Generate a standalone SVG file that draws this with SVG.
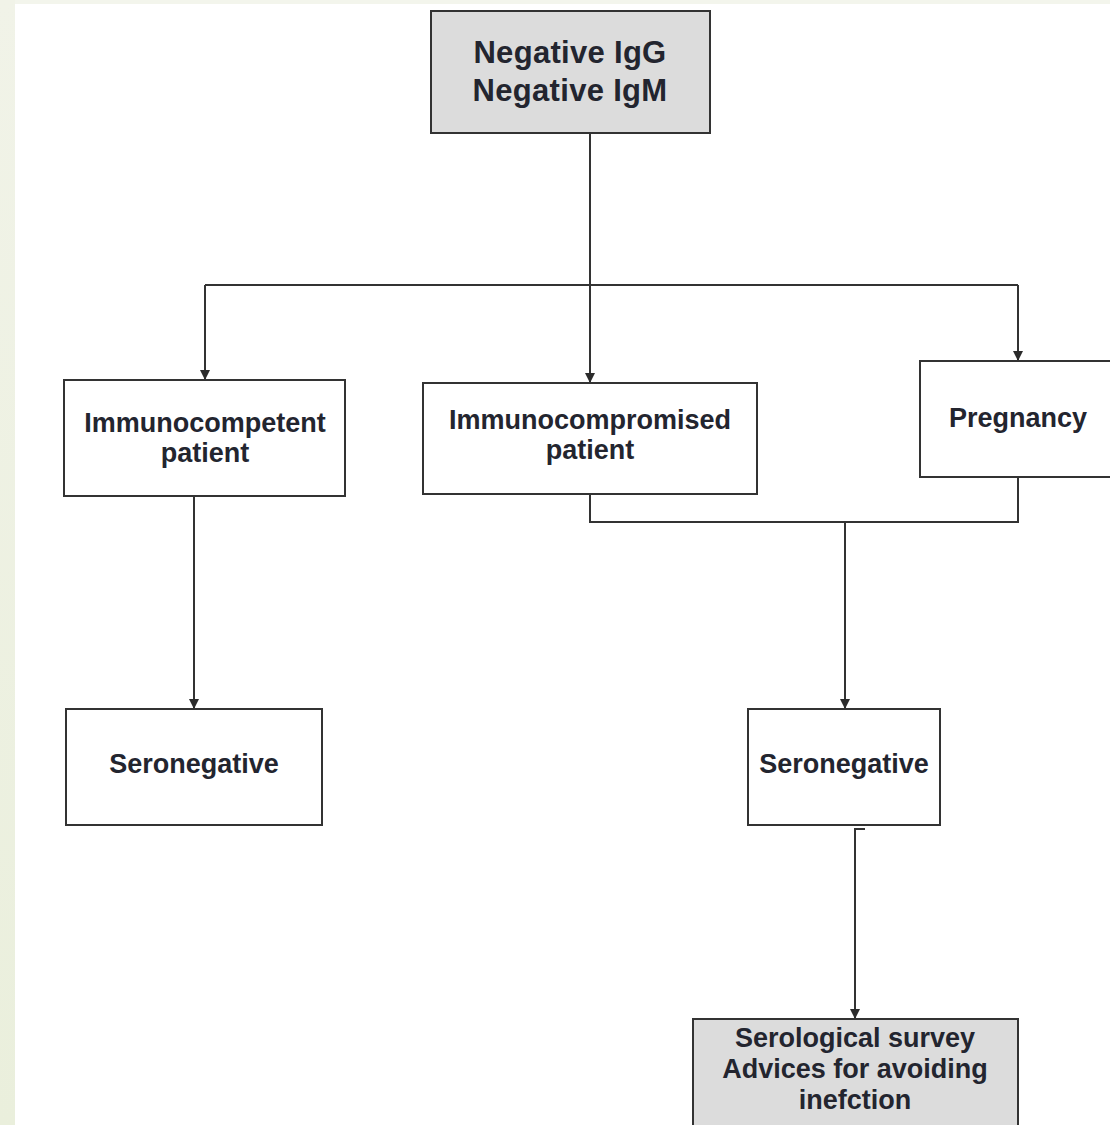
<svg xmlns="http://www.w3.org/2000/svg" width="1110" height="1125" viewBox="0 0 1110 1125">
  <defs>
    <marker id="arrow" viewBox="0 0 10 10" refX="10" refY="5" markerWidth="10" markerHeight="10" markerUnits="userSpaceOnUse" orient="auto">
      <path d="M0,0 L10,5 L0,10 z" fill="#2b2b2b"/>
    </marker>
    <linearGradient id="strip" x1="0" y1="0" x2="0" y2="1">
      <stop offset="0" stop-color="#f1f3e8"/>
      <stop offset="1" stop-color="#eaefdc"/>
    </linearGradient>
  </defs>
  <style>
    .box { fill: #ffffff; stroke: #333333; stroke-width: 2; }
    .box.grey { fill: #dcdcdc; }
    .lbl { font-family: "Liberation Sans", Arial, Helvetica, sans-serif; font-weight: bold; font-size: 27px; fill: #23252f; text-anchor: middle; }
    .big { font-size: 31px; letter-spacing: 0.3px; }
    .wire { fill: none; stroke: #333333; stroke-width: 2; }
  </style>

  <!-- page background with pale border strips -->
  <rect x="0" y="0" width="1110" height="1125" fill="#ffffff"/>
  <rect x="0" y="0" width="15" height="1125" fill="url(#strip)"/>
  <rect x="15" y="0" width="1095" height="4" fill="#f3f5ec"/>

  <!-- connectors -->
  <g id="connectors">
    <path class="wire" d="M590,133 V383" marker-end="url(#arrow)"/>
    <path class="wire" d="M205,285 H1018"/>
    <path class="wire" d="M205,285 V380" marker-end="url(#arrow)"/>
    <path class="wire" d="M1018,285 V361" marker-end="url(#arrow)"/>
    <path class="wire" d="M194,496 V709" marker-end="url(#arrow)"/>
    <path class="wire" d="M590,494 V522 H1018 V477"/>
    <path class="wire" d="M845,522 V709" marker-end="url(#arrow)"/>
    <path class="wire" d="M865,829 H855 V1019" marker-end="url(#arrow)"/>
  </g>

  <g id="node-negative">
    <rect class="box grey" x="431" y="11" width="279" height="122"/>
    <text class="lbl big" x="570" y="63">Negative IgG</text>
    <text class="lbl big" x="570" y="101">Negative IgM</text>
  </g>

  <g id="node-immunocompetent">
    <rect class="box" x="64" y="380" width="281" height="116"/>
    <text class="lbl" x="205" y="432">Immunocompetent</text>
    <text class="lbl" x="205" y="462">patient</text>
  </g>

  <g id="node-immunocompromised">
    <rect class="box" x="423" y="383" width="334" height="111"/>
    <text class="lbl" x="590" y="429">Immunocompromised</text>
    <text class="lbl" x="590" y="459">patient</text>
  </g>

  <g id="node-pregnancy">
    <rect class="box" x="920" y="361" width="200" height="116"/>
    <text class="lbl" x="1018" y="427">Pregnancy</text>
  </g>

  <g id="node-seronegative-left">
    <rect class="box" x="66" y="709" width="256" height="116"/>
    <text class="lbl" x="194" y="773">Seronegative</text>
  </g>

  <g id="node-seronegative-right">
    <rect class="box" x="748" y="709" width="192" height="116"/>
    <text class="lbl" x="844" y="773">Seronegative</text>
  </g>

  <g id="node-survey">
    <rect class="box grey" x="693" y="1019" width="325" height="120"/>
    <text class="lbl" x="855" y="1047">Serological survey</text>
    <text class="lbl" x="855" y="1078">Advices for avoiding</text>
    <text class="lbl" x="855" y="1109">inefction</text>
  </g>
</svg>
